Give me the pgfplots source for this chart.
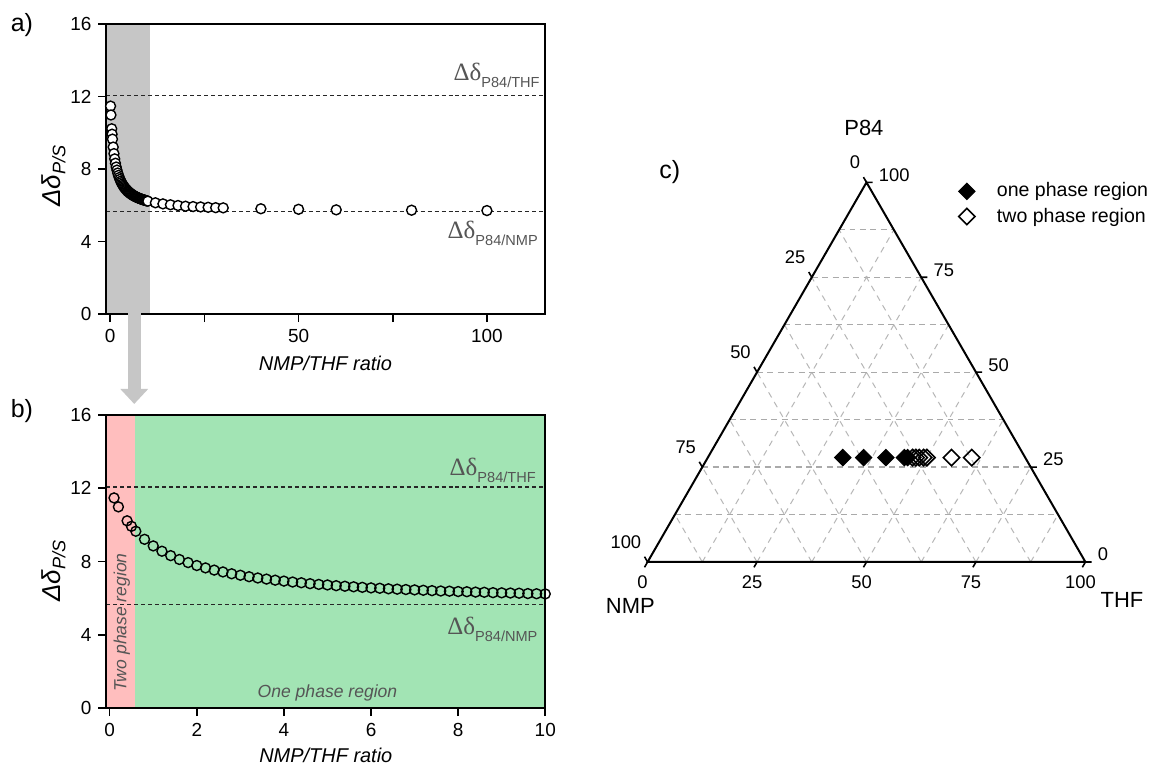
\documentclass[border=0pt]{standalone}
\usepackage{pgfplots}
\usepackage{pgfplotstable}
\pgfplotsset{compat=1.18}
\usepackage{fontspec}
\setmainfont{Liberation Sans}
\newfontfamily\seriffont{Liberation Serif}
\definecolor{shadegray}{RGB}{198,198,198}
\definecolor{pinkr}{RGB}{255,190,190}
\definecolor{greenr}{RGB}{162,228,180}
\definecolor{lblgray}{RGB}{85,85,85}
\definecolor{gridgray}{RGB}{170,170,170}

\pgfplotstableread{
r d
0.1 11.47
0.2 10.98
0.4 10.22
0.5 9.92
0.6 9.65
0.8 9.21
1.0 8.85
1.2 8.56
1.4 8.32
1.6 8.11
1.8 7.94
2.0 7.78
2.2 7.65
2.4 7.53
2.6 7.43
2.8 7.33
3.0 7.25
3.2 7.17
3.4 7.10
3.6 7.04
3.8 6.98
4.0 6.93
4.2 6.88
4.4 6.84
4.6 6.79
4.8 6.75
5.0 6.72
5.2 6.68
5.4 6.65
5.6 6.62
5.8 6.59
6.0 6.56
6.2 6.54
6.4 6.51
6.6 6.49
6.8 6.47
7.0 6.45
7.2 6.43
7.4 6.41
7.6 6.39
7.8 6.38
8.0 6.36
8.2 6.35
8.4 6.33
8.6 6.32
8.8 6.30
9.0 6.29
9.2 6.28
9.4 6.27
9.6 6.25
9.8 6.24
10.0 6.23
}\dataB

\pgfplotstableread{
r d
12 6.14
14 6.08
16 6.03
18 5.99
20 5.95
22 5.93
24 5.91
26 5.89
28 5.87
30 5.86
40 5.81
50 5.78
60 5.75
80 5.73
100 5.71
}\dataExt

\pgfplotstableread{
NMP THF P84
41.67 30.83 27.5
36.89 35.61 27.5
31.81 40.69 27.5
27.62 44.88 27.5
26.86 45.64 27.5
}\onephase

\pgfplotstableread{
NMP THF P84
25.73 46.77 27.5
24.97 47.53 27.5
24.20 48.30 27.5
23.22 49.28 27.5
22.47 50.03 27.5
16.84 55.66 27.5
12.22 60.28 27.5
}\twophase

\pgfplotsset{
  panel/.style={
    scale only axis, axis on top, clip=false,
    tick align=outside, tick pos=left,
    major tick length=4pt,
    axis line style={line width=1pt},
    every tick/.style={black, line width=0.8pt},
    /pgf/number format/assume math mode=true,
    tick label style={font=\fontsize{9.5}{11}\selectfont},
    xlabel style={font=\fontsize{10}{12}\selectfont\itshape},
    ylabel style={font=\fontsize{13}{15}\selectfont\itshape},
  },
  dline/.style={black!85, line width=0.7pt, dash pattern=on 2pt off 1.5pt, forget plot},
  circ/.style={only marks, mark=*, mark size=2.5pt, mark options={fill=white, draw=black, line width=0.7pt}},
  circb/.style={only marks, mark=o, mark size=2.5pt, mark options={draw=black, line width=0.7pt}},
}
\newcommand{\ddlabel}[1]{{\seriffont\fontsize{12.5}{14}\selectfont Δδ}\raisebox{-3.5pt}{\fontsize{7.3}{8}\selectfont #1}}

\begin{document}
\begin{tikzpicture}
\begin{scope}[x=0.5pt,y=0.5pt]
\useasboundingbox (0,0) rectangle (1158,767);
\fill[white] (0,0) rectangle (1158,767);
\coordinate (Aorig) at (106.7,452);
\coordinate (Borig) at (106.7,57);
\coordinate (Corig) at (649.3,203.5);
\node[font=\fontsize{12.5}{14}\selectfont] at (22,742) {a)};
\node[font=\fontsize{12.5}{14}\selectfont] at (22,355) {b)};
\end{scope}

% ---------- panel a ----------
\begin{axis}[panel, at={(Aorig)}, anchor=south west,
  width=219.65pt, height=145.5pt,
  xmin=-1, xmax=115.3, ymin=0, ymax=16,
  xtick={0,25,50,75,100}, xticklabels={0,,50,,100},
  ytick={0,4,8,12,16},
  xlabel={NMP/THF ratio}, ylabel={Δδ\textsubscript{P/S}},
  xlabel style={at={(axis description cs:0.5,-0.168)}, anchor=center},
  ylabel style={at={(axis description cs:-0.1206,0.478)}, anchor=center},
]
\addplot[fill=shadegray, draw=none, forget plot] coordinates {(-1,0) (10.5,0) (10.5,16) (-1,16)};
\addplot[dline] coordinates {(-1,12.06) (115.3,12.06)};
\addplot[dline] coordinates {(-1,5.65) (115.3,5.65)};
\addplot[circ] table[x=r, y=d] {\dataB};
\addplot[circ] table[x=r, y=d] {\dataExt};
\node[anchor=base east, text=lblgray, inner sep=0pt] at (axis cs:114.1,12.9) {\ddlabel{P84/THF}};
\node[anchor=base east, text=lblgray, inner sep=0pt] at (axis cs:113.6,4.16) {\ddlabel{P84/NMP}};
\end{axis}

% arrow from a to b
\begin{scope}[x=0.5pt,y=0.5pt]
\fill[shadegray] (128.3,455) rectangle (141,377);
\fill[shadegray] (120.6,377) -- (148.6,377) -- (134.6,362) -- cycle;
\end{scope}

% ---------- panel b ----------
\begin{axis}[panel, at={(Borig)}, anchor=south west,
  width=220pt, height=147pt,
  xmin=-0.075, xmax=10, ymin=0, ymax=16,
  xtick={0,2,...,10},
  ytick={0,4,8,12,16},
  xlabel={NMP/THF ratio}, ylabel={Δδ\textsubscript{P/S}},
  xlabel style={at={(axis description cs:0.5,-0.16)}, anchor=center},
  ylabel style={at={(axis description cs:-0.1205,0.469)}, anchor=center},
]
\addplot[fill=pinkr, draw=none, forget plot] coordinates {(-0.075,0) (0.58,0) (0.58,16) (-0.075,16)};
\addplot[fill=greenr, draw=none, forget plot] coordinates {(0.58,0) (10,0) (10,16) (0.58,16)};
\addplot[dline] coordinates {(-0.075,12.06) (10,12.06)};
\addplot[dline] coordinates {(-0.075,5.65) (10,5.65)};
\addplot[circb] table[x=r, y=d] {\dataB};
\node[anchor=base east, text=lblgray, inner sep=0pt] at (axis cs:9.79,12.68) {\ddlabel{P84/THF}};
\node[anchor=base east, text=lblgray, inner sep=0pt] at (axis cs:9.83,4.04) {\ddlabel{P84/NMP}};
\node[rotate=90, text=lblgray, font=\fontsize{8.8}{10}\selectfont\itshape] at (axis cs:0.28,4.68) {Two phase region};
\node[text=lblgray, font=\fontsize{8.8}{10}\selectfont\itshape] at (axis cs:5.0,0.85) {One phase region};
\end{axis}

% ---------- panel c (ternary) ----------
\begin{axis}[at={(Corig)}, anchor=south west, scale only axis,
  width=219.5pt, height=190.3pt,
  xmin=0, xmax=100, ymin=0, ymax=86.6025,
  hide axis, clip=false, unbounded coords=jump,
  legend style={at={(axis description cs:0.695,1.021)}, anchor=north west,
    draw=none, fill=none, font=\fontsize{9.8}{11}\selectfont, row sep=0pt},
  legend cell align=left,
  legend image code/.code={\draw[#1] plot coordinates {(0pt,0pt)}; \path (-4.1pt,0pt) (12.9pt,0pt);},
]
% grid
\addplot[gridgray, line width=0.6pt, dash pattern=on 3pt off 2.2pt, forget plot] coordinates {
(6.25,10.825) (93.75,10.825) (nan,nan)
(12.5,21.651) (87.5,21.651) (nan,nan)
(18.75,32.476) (81.25,32.476) (nan,nan)
(25,43.301) (75,43.301) (nan,nan)
(31.25,54.127) (68.75,54.127) (nan,nan)
(37.5,64.952) (62.5,64.952) (nan,nan)
(43.75,75.777) (56.25,75.777) (nan,nan)
};
\addplot[gridgray!85, line width=0.5pt, dash pattern=on 3pt off 2.6pt, forget plot] coordinates {
(12.5,0) (56.25,75.777) (nan,nan)
(25,0) (62.5,64.952) (nan,nan)
(37.5,0) (68.75,54.127) (nan,nan)
(50,0) (75,43.301) (nan,nan)
(62.5,0) (81.25,32.476) (nan,nan)
(75,0) (87.5,21.651) (nan,nan)
(87.5,0) (93.75,10.825) (nan,nan)
(87.5,0) (43.75,75.777) (nan,nan)
(75,0) (37.5,64.952) (nan,nan)
(62.5,0) (31.25,54.127) (nan,nan)
(50,0) (25,43.301) (nan,nan)
(37.5,0) (18.75,32.476) (nan,nan)
(25,0) (12.5,21.651) (nan,nan)
(12.5,0) (6.25,10.825) (nan,nan)
};
% triangle
\addplot[black, line width=1pt, line join=miter, forget plot] coordinates {(0,0) (100,0) (50,86.6025) (0,0) (50,0)};
% ticks
\addplot[black, line width=0.8pt, forget plot] coordinates {
(50,86.6025) (49.3,87.81) (nan,nan)
(37.5,64.952) (36.8,66.16) (nan,nan)
(25,43.301) (24.3,44.51) (nan,nan)
(12.5,21.651) (11.8,22.86) (nan,nan)
(0,0) (-0.7,1.21) (nan,nan)
(50,86.6025) (51.4,86.6025) (nan,nan)
(62.5,64.952) (63.9,64.952) (nan,nan)
(75,43.301) (76.4,43.301) (nan,nan)
(87.5,21.651) (88.9,21.651) (nan,nan)
(100,0) (101.4,0) (nan,nan)
(0,0) (-0.7,-1.21) (nan,nan)
(25,0) (24.3,-1.21) (nan,nan)
(50,0) (49.3,-1.21) (nan,nan)
(75,0) (74.3,-1.21) (nan,nan)
(100,0) (99.3,-1.21) (nan,nan)
};
% data
\addplot[only marks, mark=square*, mark size=2.9pt, mark options={rotate=45, fill=black, draw=black, line width=0.5pt}]
  table[x expr=\thisrow{THF}+0.5*\thisrow{P84}, y expr=0.866025*\thisrow{P84}] {\onephase};
\addlegendentry{one phase region}
\addplot[only marks, mark=square, mark size=2.9pt, mark options={rotate=45, draw=black, line width=0.8pt}]
  table[x expr=\thisrow{THF}+0.5*\thisrow{P84}, y expr=0.866025*\thisrow{P84}] {\twophase};
\addlegendentry{two phase region}
% tick labels
\begin{scope}[every node/.style={font=\fontsize{9.2}{11}\selectfont, inner sep=0pt}]
\node[anchor=east, xshift=-3pt, yshift=10pt] at (axis cs:50,86.6025) {0};
\node[anchor=east, xshift=-3pt, yshift=10pt] at (axis cs:37.5,64.952) {25};
\node[anchor=east, xshift=-3pt, yshift=10pt] at (axis cs:25,43.301) {50};
\node[anchor=east, xshift=-3pt, yshift=10pt] at (axis cs:12.5,21.651) {75};
\node[anchor=east, xshift=-3pt, yshift=10pt] at (axis cs:0,0) {100};
\node[anchor=west, xshift=6pt, yshift=3.75pt] at (axis cs:50,86.6025) {100};
\node[anchor=west, xshift=6pt, yshift=3.75pt] at (axis cs:62.5,64.952) {75};
\node[anchor=west, xshift=6pt, yshift=3.75pt] at (axis cs:75,43.301) {50};
\node[anchor=west, xshift=6pt, yshift=3.75pt] at (axis cs:87.5,21.651) {25};
\node[anchor=west, xshift=6pt, yshift=3.75pt] at (axis cs:100,0) {0};
\node[xshift=-2.5pt, yshift=-10pt] at (axis cs:0,0) {0};
\node[xshift=-2.5pt, yshift=-10pt] at (axis cs:25,0) {25};
\node[xshift=-2.5pt, yshift=-10pt] at (axis cs:50,0) {50};
\node[xshift=-2.5pt, yshift=-10pt] at (axis cs:75,0) {75};
\node[xshift=-2.5pt, yshift=-10pt] at (axis cs:100,0) {100};
\end{scope}
\begin{scope}[every node/.style={font=\fontsize{11}{13}\selectfont}]
\node[xshift=-1.3pt, yshift=27.35pt] at (axis cs:50,86.6025) {P84};
\node[xshift=-8.65pt, yshift=-22.25pt] at (axis cs:0,0) {NMP};
\node[xshift=18.35pt, yshift=-19.25pt] at (axis cs:100,0) {THF};
\end{scope}
\node[font=\fontsize{12.5}{14}\selectfont] at (axis cs:5.06,88.94) {c)};
\end{axis}
\end{tikzpicture}
\end{document}
